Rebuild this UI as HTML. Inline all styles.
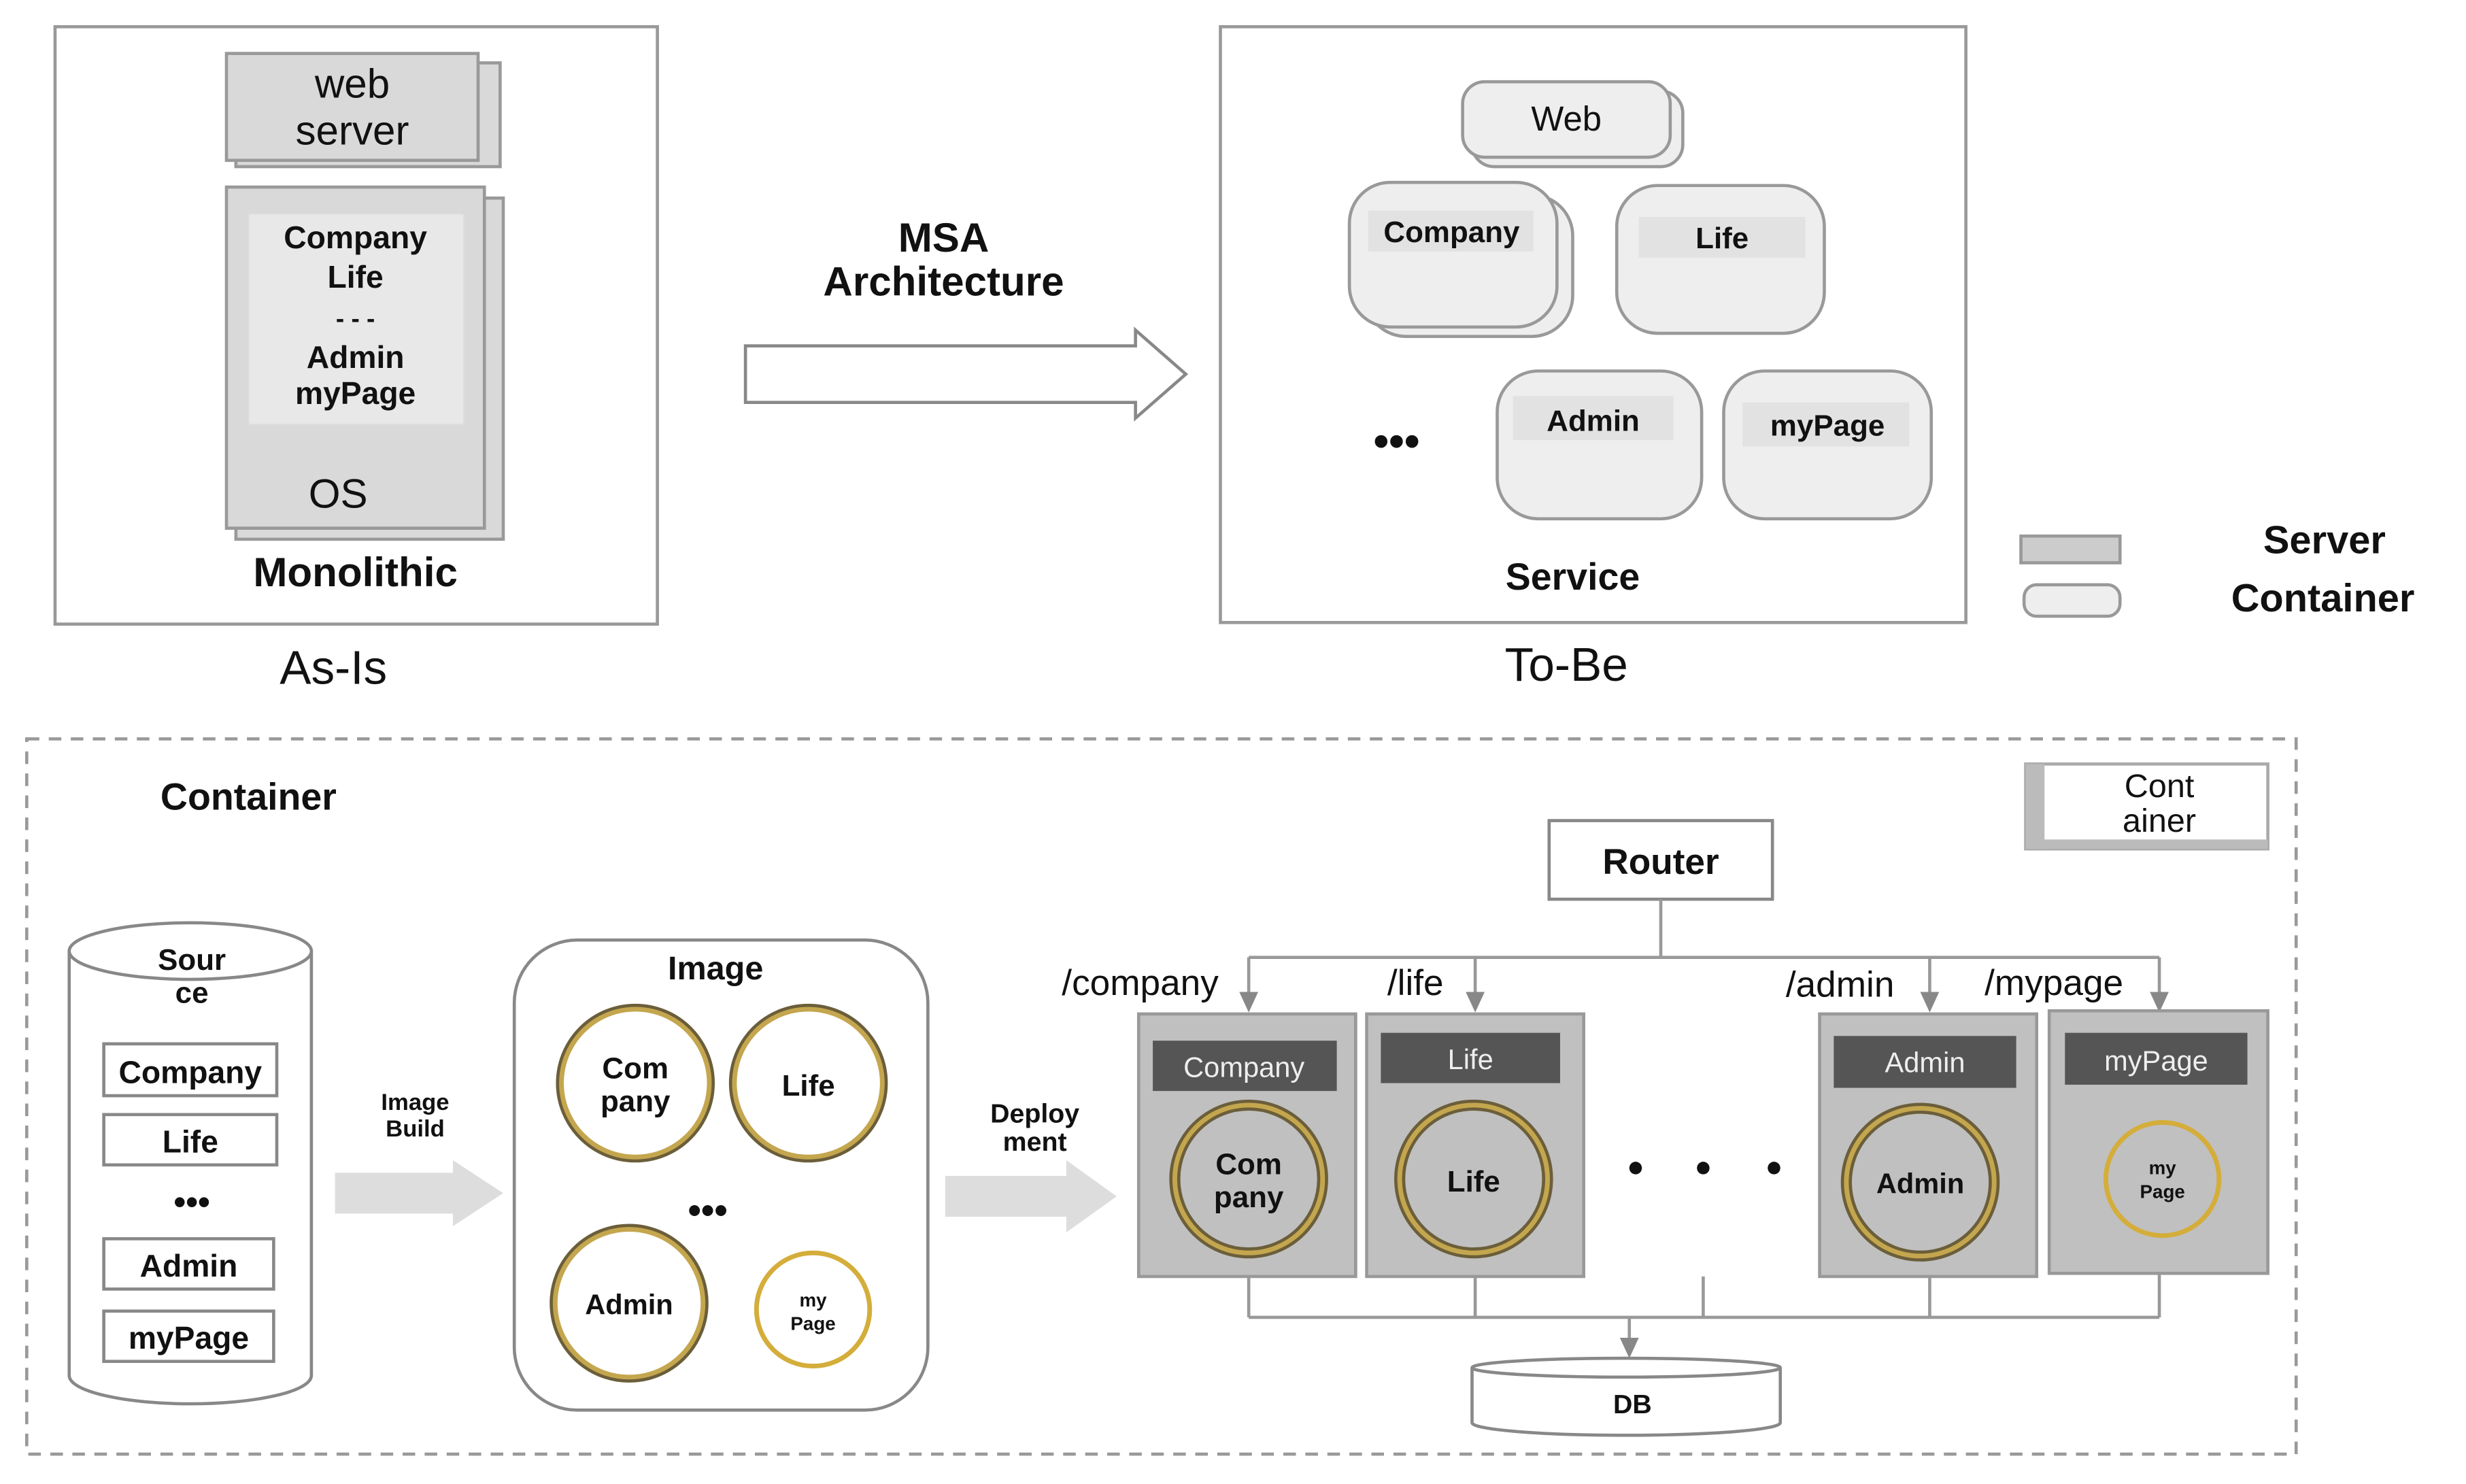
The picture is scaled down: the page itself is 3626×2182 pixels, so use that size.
<!DOCTYPE html>
<html><head><meta charset="utf-8"><style>
html,body{margin:0;padding:0;background:#fff;}
svg{display:block;}
text{font-family:"Liberation Sans","Noto Sans CJK KR",sans-serif;text-anchor:middle;fill:#111;}
.b{font-weight:bold;}
</style></head><body>
<svg width="3626" height="2182" viewBox="0 0 1568 944" preserveAspectRatio="none" xmlns="http://www.w3.org/2000/svg">
<!-- As-Is -->
<rect x="35" y="17" width="383" height="380" fill="#fff" stroke="#999" stroke-width="2"/>
<rect x="150" y="40" width="168" height="66" fill="#d9d9d9" stroke="#999" stroke-width="2"/>
<rect x="144" y="34" width="160" height="68" fill="#d9d9d9" stroke="#999" stroke-width="2"/>
<text x="224" y="62" font-size="26">web</text>
<text x="224" y="92" font-size="26">server</text>
<rect x="150" y="126" width="170" height="217" fill="#d9d9d9" stroke="#999" stroke-width="2"/>
<rect x="144" y="119" width="164" height="217" fill="#d9d9d9" stroke="#999" stroke-width="2"/>
<rect x="158" y="136" width="137" height="134" fill="#e8e8e8" stroke="#ddd"/>
<text class="b" x="226" y="158" font-size="20">Company</text>
<text class="b" x="226" y="183" font-size="20">Life</text>
<text class="b" x="226" y="208" font-size="16">- - -</text>
<text class="b" x="226" y="234" font-size="20">Admin</text>
<text class="b" x="226" y="257" font-size="20">myPage</text>
<text x="215" y="323" font-size="26">OS</text>
<text class="b" x="226" y="373" font-size="26">Monolithic</text>
<text x="212" y="435" font-size="30">As-Is</text>
<!-- MSA arrow -->
<text class="b" x="600" y="160" font-size="26">MSA</text>
<text class="b" x="600" y="188" font-size="26">Architecture</text>
<path d="M474,220 L722,220 L722,210 L754,238 L722,266 L722,256 L474,256 z" fill="#fff" stroke="#888" stroke-width="2"/>
<!-- To-Be -->
<rect x="776" y="17" width="474" height="379" fill="#fff" stroke="#999" stroke-width="2"/>
<rect x="936" y="58" width="134" height="48" rx="14" fill="#eee" stroke="#999" stroke-width="2"/>
<rect x="930" y="52" width="132" height="48" rx="14" fill="#eee" stroke="#999" stroke-width="2"/>
<text x="996" y="83" font-size="22">Web</text>
<rect x="868" y="124" width="132" height="90" rx="26" fill="#eee" stroke="#999" stroke-width="2"/>
<rect x="858" y="116" width="132" height="92" rx="26" fill="#eee" stroke="#999" stroke-width="2"/>
<rect x="870" y="134" width="105" height="26" fill="#e2e2e2"/>
<text class="b" x="923" y="154" font-size="19">Company</text>
<rect x="1028" y="118" width="132" height="94" rx="26" fill="#eee" stroke="#999" stroke-width="2"/>
<rect x="1042" y="138" width="106" height="26" fill="#e2e2e2"/>
<text class="b" x="1095" y="158" font-size="19">Life</text>
<rect x="952" y="236" width="130" height="94" rx="26" fill="#eee" stroke="#999" stroke-width="2"/>
<rect x="962" y="252" width="102" height="28" fill="#e2e2e2"/>
<text class="b" x="1013" y="274" font-size="19">Admin</text>
<rect x="1096" y="236" width="132" height="94" rx="26" fill="#eee" stroke="#999" stroke-width="2"/>
<rect x="1108" y="256" width="106" height="28" fill="#e2e2e2"/>
<text class="b" x="1162" y="277" font-size="19">myPage</text>
<text class="b" x="888" y="290" font-size="28">•••</text>
<text class="b" x="1000" y="375" font-size="24">Service</text>
<text x="996" y="433" font-size="30">To-Be</text>
<!-- legend -->
<rect x="1285" y="341" width="63" height="17" fill="#ccc" stroke="#999" stroke-width="2"/>
<rect x="1287" y="372" width="61" height="20" rx="8" fill="#eee" stroke="#999" stroke-width="2"/>
<text class="b" x="1478" y="352" font-size="25">Server</text>
<text class="b" x="1477" y="389" font-size="25">Container</text>
<!-- bottom dashed -->
<rect x="17" y="470" width="1443" height="455" fill="none" stroke="#999" stroke-width="2" stroke-dasharray="8,6"/>
<text class="b" x="158" y="515" font-size="24">Container</text>
<rect x="1288" y="486" width="154" height="54" fill="#fff" stroke="#aaa" stroke-width="2"/>
<rect x="1288" y="486" width="12" height="54" fill="#bbb"/>
<rect x="1288" y="534" width="154" height="6" fill="#bbb"/>
<text x="1373" y="507" font-size="21">Cont</text>
<text x="1373" y="529" font-size="21">ainer</text>
<!-- Source cylinder -->
<path d="M44,605 L44,875 A77,18 0 0 0 198,875 L198,605" fill="#fff" stroke="#888" stroke-width="2"/>
<ellipse cx="121" cy="605" rx="77" ry="18" fill="#fff" stroke="#888" stroke-width="2"/>
<text class="b" x="122" y="617" font-size="19">Sour</text>
<text class="b" x="122" y="638" font-size="19">ce</text>
<rect x="66" y="664" width="110" height="33" fill="#fff" stroke="#888" stroke-width="2"/>
<text class="b" x="121" y="689" font-size="20">Company</text>
<rect x="66" y="709" width="110" height="32" fill="#fff" stroke="#888" stroke-width="2"/>
<text class="b" x="121" y="733" font-size="20">Life</text>
<text class="b" x="122" y="772" font-size="22">•••</text>
<rect x="66" y="788" width="108" height="32" fill="#fff" stroke="#888" stroke-width="2"/>
<text class="b" x="120" y="812" font-size="20">Admin</text>
<rect x="66" y="834" width="108" height="32" fill="#fff" stroke="#888" stroke-width="2"/>
<text class="b" x="120" y="858" font-size="20">myPage</text>
<text class="b" x="264" y="706" font-size="15">Image</text>
<text class="b" x="264" y="723" font-size="15">Build</text>
<path d="M213,746 L288,746 L288,738 L320,759 L288,780 L288,772 L213,772 z" fill="#ddd"/>
<!-- Image box -->
<rect x="327" y="598" width="263" height="299" rx="40" fill="#fff" stroke="#888" stroke-width="2"/>
<text class="b" x="455" y="623" font-size="21">Image</text>
<g fill="#fff">
<circle cx="404" cy="689" r="47" stroke="#6b5e3a" stroke-width="7"/>
<circle cx="404" cy="689" r="47" stroke="#c4a64e" stroke-width="3"/>
<circle cx="514" cy="689" r="47" stroke="#6b5e3a" stroke-width="7"/>
<circle cx="514" cy="689" r="47" stroke="#c4a64e" stroke-width="3"/>
<circle cx="400" cy="829" r="47" stroke="#6b5e3a" stroke-width="7"/>
<circle cx="400" cy="829" r="47" stroke="#c4a64e" stroke-width="3"/>
<circle cx="517" cy="833" r="36" stroke="#d4ad3a" stroke-width="3"/>
</g>
<text class="b" x="404" y="686" font-size="19">Com</text>
<text class="b" x="404" y="707" font-size="19">pany</text>
<text class="b" x="514" y="697" font-size="19">Life</text>
<text class="b" x="400" y="836" font-size="18">Admin</text>
<text class="b" x="517" y="831" font-size="12">my</text>
<text class="b" x="517" y="846" font-size="12">Page</text>
<text class="b" x="450" y="778" font-size="24">•••</text>
<text class="b" x="658" y="714" font-size="17">Deploy</text>
<text class="b" x="658" y="732" font-size="17">ment</text>
<path d="M601,748 L678,748 L678,738 L710,761 L678,784 L678,774 L601,774 z" fill="#ddd"/>
<!-- Router -->
<rect x="985" y="522" width="142" height="50" fill="#fff" stroke="#888" stroke-width="2"/>
<text class="b" x="1056" y="556" font-size="23">Router</text>
<g stroke="#999" stroke-width="2" fill="none">
<line x1="1056" y1="572" x2="1056" y2="609"/>
<line x1="794" y1="609" x2="1373" y2="609"/>
<line x1="794" y1="609" x2="794" y2="632"/>
<line x1="938" y1="609" x2="938" y2="632"/>
<line x1="1227" y1="609" x2="1227" y2="632"/>
<line x1="1373" y1="609" x2="1373" y2="632"/>
<line x1="1036" y1="838" x2="1036" y2="852"/>
</g>
<g fill="#888">
<path d="M788,631 L800,631 L794,644 z"/>
<path d="M932,631 L944,631 L938,644 z"/>
<path d="M1221,631 L1233,631 L1227,644 z"/>
<path d="M1367,631 L1379,631 L1373,644 z"/>
<path d="M1030,851 L1042,851 L1036,864 z"/>
</g>
<text x="725" y="633" font-size="23">/company</text>
<text x="900" y="633" font-size="23">/life</text>
<text x="1170" y="634" font-size="23">/admin</text>
<text x="1306" y="633" font-size="23">/mypage</text>
<!-- columns -->
<g fill="#c0c0c0" stroke="#999" stroke-width="2">
<rect x="724" y="645" width="138" height="167"/>
<rect x="869" y="645" width="138" height="167"/>
<rect x="1157" y="645" width="138" height="167"/>
<rect x="1303" y="643" width="139" height="167"/>
</g>
<g fill="#555">
<rect x="733" y="662" width="117" height="32"/>
<rect x="878" y="657" width="114" height="32"/>
<rect x="1166" y="659" width="116" height="33"/>
<rect x="1313" y="657" width="116" height="33"/>
</g>
<text x="791" y="685" font-size="18" style="fill:#eee">Company</text>
<text x="935" y="680" font-size="18" style="fill:#eee">Life</text>
<text x="1224" y="682" font-size="18" style="fill:#eee">Admin</text>
<text x="1371" y="681" font-size="18" style="fill:#eee">myPage</text>
<g fill="none">
<circle cx="794" cy="750" r="47" stroke="#6b5e3a" stroke-width="7"/>
<circle cx="794" cy="750" r="47" stroke="#c4a64e" stroke-width="3"/>
<circle cx="937" cy="750" r="47" stroke="#6b5e3a" stroke-width="7"/>
<circle cx="937" cy="750" r="47" stroke="#c4a64e" stroke-width="3"/>
<circle cx="1221" cy="752" r="47" stroke="#6b5e3a" stroke-width="7"/>
<circle cx="1221" cy="752" r="47" stroke="#c4a64e" stroke-width="3"/>
<circle cx="1375" cy="750" r="36" stroke="#d4ad3a" stroke-width="3"/>
</g>
<text class="b" x="794" y="747" font-size="19">Com</text>
<text class="b" x="794" y="768" font-size="19">pany</text>
<text class="b" x="937" y="758" font-size="19">Life</text>
<text class="b" x="1221" y="759" font-size="18">Admin</text>
<text class="b" x="1375" y="747" font-size="12">my</text>
<text class="b" x="1375" y="762" font-size="12">Page</text>
<g fill="#111"><circle cx="1040" cy="743" r="4"/><circle cx="1083" cy="743" r="4"/><circle cx="1128" cy="743" r="4"/></g>
<g stroke="#999" stroke-width="2" fill="none">
<line x1="794" y1="812" x2="794" y2="838"/>
<line x1="938" y1="812" x2="938" y2="838"/>
<line x1="1083" y1="812" x2="1083" y2="838"/>
<line x1="1227" y1="812" x2="1227" y2="838"/>
<line x1="1373" y1="810" x2="1373" y2="838"/>
<line x1="794" y1="838" x2="1373" y2="838"/>
</g>
<path d="M936,870 L936,905 A98,8 0 0 0 1132,905 L1132,870" fill="#fff" stroke="#888" stroke-width="2"/>
<ellipse cx="1034" cy="870" rx="98" ry="6" fill="#fff" stroke="#888" stroke-width="2"/>
<text class="b" x="1038" y="899" font-size="17">DB</text>
</svg>
</body></html>
